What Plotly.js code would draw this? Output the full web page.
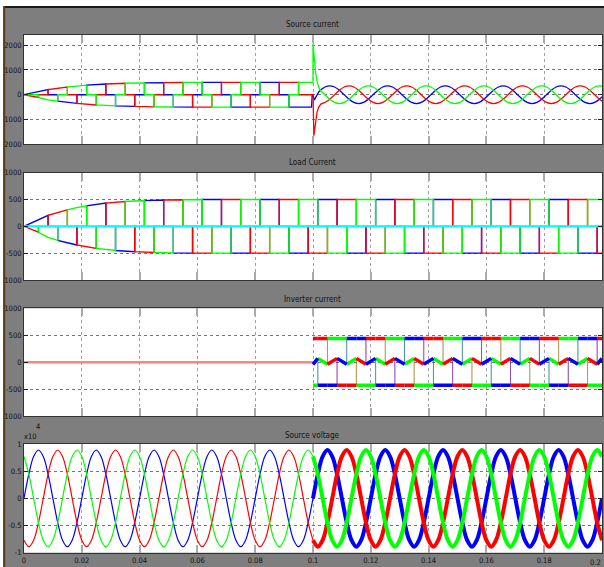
<!DOCTYPE html>
<html>
<head>
<meta charset="utf-8">
<script src="https://cdn.plot.ly/plotly-3.0.1.min.js"></script>
<style>
html,body{margin:0;padding:0;background:#7e7e7e;}
#chart{width:604px;height:567px;}
</style>
</head>
<body>
<div id="chart"></div>
<script>
// ---------------- DATA ----------------
// Commutation instants of the 6-pulse load current (s)
const timeEdges = [0, 0.00167, 0.005, 0.00833, 0.01167, 0.015, 0.01833, 0.02167, 0.025, 0.02833, 0.03167,
  0.035, 0.03833, 0.04167, 0.045, 0.04833, 0.05167, 0.055, 0.05833, 0.06167, 0.065,
  0.06833, 0.07167, 0.075, 0.07833, 0.08167, 0.085, 0.08833, 0.09167, 0.095, 0.09833,
  0.10167, 0.105, 0.10833, 0.11167, 0.115, 0.11833, 0.12167, 0.125, 0.12833, 0.13167,
  0.135, 0.13833, 0.14167, 0.145, 0.14833, 0.15167, 0.155, 0.15833, 0.16167, 0.165,
  0.16833, 0.17167, 0.175, 0.17833, 0.18167, 0.185, 0.18833, 0.19167, 0.195, 0.19833, 0.2];
// Load current magnitude at each instant (A)
const loadEnvelope = [0, 40, 110, 205, 262, 308, 348, 384, 412, 433, 450,
  463, 472, 480, 486, 490, 494, 497, 499, 500, 500,
  500, 500, 500, 500, 500, 500, 500, 500, 500, 500,
  500, 500, 500, 500, 500, 500, 500, 500, 500, 500,
  500, 500, 500, 500, 500, 500, 500, 500, 500, 500,
  500, 500, 500, 500, 500, 500, 500, 500, 500, 500, 500];
// Phase state per interval: + conducting positive, - negative, 0 idle
const loadStateBlue  = "+ ++0--0 ++0--0 ++0--0 ++0--0 ++0--0 ++0--0 ++0--0 ++0--0 ++0--0 ++0--0";
const loadStateRed   = "- -0++0- -0++0- -0++0- -0++0- -0++0- -0++0- -0++0- -0++0- -0++0- -0++0-";
const loadStateGreen = "0 0--0++ 0--0++ 0--0++ 0--0++ 0--0++ 0--0++ 0--0++ 0--0++ 0--0++ 0--0++";
const loadNeutralT = [0, 0.2];
const loadNeutral = [0, 0];

// Source current: transient at switch-on of the compensator (t = 0.1 s)
const srcTailBlueT  = [0.09833, 0.0995, 0.0997, 0.1, 0.1004, 0.1009, 0.1014, 0.102, 0.1027, 0.10413];
const srcTailBlue   = [-500, -500, -20, 0, -220, -120, 0, 110, 200, 312];
const srcTailRedT   = [0.09833, 0.1, 0.1003, 0.1008, 0.1014, 0.102, 0.1027, 0.10413];
const srcTailRed    = [0, 0, -1650, -1100, -700, -500, -380, -312];
const srcTailGreenT = [0.09833, 0.1, 0.1, 0.1004, 0.1009, 0.1014, 0.102, 0.1027, 0.10413];
const srcTailGreen  = [500, 500, 2050, 1500, 900, 550, 300, 150, 0];
// Source current after compensation (sinusoidal)
const srcSineT = [0.10413, 0.1058, 0.10747, 0.10913, 0.1108, 0.11247, 0.11413, 0.1158, 0.11747, 0.11913, 0.1208, 0.12247,
  0.12413, 0.1258, 0.12747, 0.12913, 0.1308, 0.13247, 0.13413, 0.1358, 0.13747, 0.13913, 0.1408, 0.14247,
  0.14413, 0.1458, 0.14747, 0.14913, 0.1508, 0.15247, 0.15413, 0.1558, 0.15747, 0.15913, 0.1608, 0.16247,
  0.16413, 0.1658, 0.16747, 0.16913, 0.1708, 0.17247, 0.17413, 0.1758, 0.17747, 0.17913, 0.1808, 0.18247,
  0.18413, 0.1858, 0.18747, 0.18913, 0.1908, 0.19247, 0.19413, 0.1958, 0.19747, 0.19913, 0.2008];
const srcSineBlue = [312, 360, 312, 180, 0, -180, -312, -360, -312, -180, 0, 180,
  312, 360, 312, 180, 0, -180, -312, -360, -312, -180, 0, 180,
  312, 360, 312, 180, 0, -180, -312, -360, -312, -180, 0, 180,
  312, 360, 312, 180, 0, -180, -312, -360, -312, -180, 0, 180,
  312, 360, 312, 180, 0, -180, -312, -360, -312, -180, 0];
const srcSineRed = [-312, -180, 0, 180, 312, 360, 312, 180, 0, -180, -312, -360,
  -312, -180, 0, 180, 312, 360, 312, 180, 0, -180, -312, -360,
  -312, -180, 0, 180, 312, 360, 312, 180, 0, -180, -312, -360,
  -312, -180, 0, 180, 312, 360, 312, 180, 0, -180, -312, -360,
  -312, -180, 0, 180, 312, 360, 312, 180, 0, -180, -312];
const srcSineGreen = [0, -180, -312, -360, -312, -180, 0, 180, 312, 360, 312, 180,
  0, -180, -312, -360, -312, -180, 0, 180, 312, 360, 312, 180,
  0, -180, -312, -360, -312, -180, 0, 180, 312, 360, 312, 180,
  0, -180, -312, -360, -312, -180, 0, 180, 312, 360, 312, 180,
  0, -180, -312, -360, -312, -180, 0, 180, 312, 360, 312];

// Inverter current
const invPreT = [0, 0.1];
const invPre = [0, 0];
const invEdges = [0.1, 0.10167, 0.105, 0.10833, 0.11167, 0.115, 0.11833, 0.12167, 0.125, 0.12833, 0.13167,
  0.135, 0.13833, 0.14167, 0.145, 0.14833, 0.15167, 0.155, 0.15833, 0.16167, 0.165,
  0.16833, 0.17167, 0.175, 0.17833, 0.18167, 0.185, 0.18833, 0.19167, 0.195, 0.19833, 0.2];
// T top band, B bottom band, U middle ramp up, D middle ramp down
const invStateBlue  = "U BBDTTU BBDTTU BBDTTU BBDTTU BBDTTU";
const invStateRed   = "T TUBBDT TUBBDT TUBBDT TUBBDT TUBBDT";
const invStateGreen = "B DTTUBB DTTUBB DTTUBB DTTUBB DTTUBB";
const invTop = [440, 440];
const invBottom = [-430, -430];
const invRampUp = [-40, 70];
const invRampDown = [70, -40];

// Source voltage (x 10^4 V)
const voltT = [0, 0.00167, 0.00333, 0.005, 0.00667, 0.00833, 0.01, 0.01167, 0.01333, 0.015, 0.01667, 0.01833,
  0.02, 0.02167, 0.02333, 0.025, 0.02667, 0.02833, 0.03, 0.03167, 0.03333, 0.035, 0.03667, 0.03833,
  0.04, 0.04167, 0.04333, 0.045, 0.04667, 0.04833, 0.05, 0.05167, 0.05333, 0.055, 0.05667, 0.05833,
  0.06, 0.06167, 0.06333, 0.065, 0.06667, 0.06833, 0.07, 0.07167, 0.07333, 0.075, 0.07667, 0.07833,
  0.08, 0.08167, 0.08333, 0.085, 0.08667, 0.08833, 0.09, 0.09167, 0.09333, 0.095, 0.09667, 0.09833,
  0.1, 0.10167, 0.10333, 0.105, 0.10667, 0.10833, 0.11, 0.11167, 0.11333, 0.115, 0.11667, 0.11833,
  0.12, 0.12167, 0.12333, 0.125, 0.12667, 0.12833, 0.13, 0.13167, 0.13333, 0.135, 0.13667, 0.13833,
  0.14, 0.14167, 0.14333, 0.145, 0.14667, 0.14833, 0.15, 0.15167, 0.15333, 0.155, 0.15667, 0.15833,
  0.16, 0.16167, 0.16333, 0.165, 0.16667, 0.16833, 0.17, 0.17167, 0.17333, 0.175, 0.17667, 0.17833,
  0.18, 0.18167, 0.18333, 0.185, 0.18667, 0.18833, 0.19, 0.19167, 0.19333, 0.195, 0.19667, 0.19833, 0.2];
const voltBlue = [0, 0.445, 0.77, 0.89, 0.77, 0.445, 0, -0.445, -0.77, -0.89, -0.77, -0.445,
  0, 0.445, 0.77, 0.89, 0.77, 0.445, 0, -0.445, -0.77, -0.89, -0.77, -0.445,
  0, 0.445, 0.77, 0.89, 0.77, 0.445, 0, -0.445, -0.77, -0.89, -0.77, -0.445,
  0, 0.445, 0.77, 0.89, 0.77, 0.445, 0, -0.445, -0.77, -0.89, -0.77, -0.445,
  0, 0.445, 0.77, 0.89, 0.77, 0.445, 0, -0.445, -0.77, -0.89, -0.77, -0.445,
  0, 0.445, 0.77, 0.89, 0.77, 0.445, 0, -0.445, -0.77, -0.89, -0.77, -0.445,
  0, 0.445, 0.77, 0.89, 0.77, 0.445, 0, -0.445, -0.77, -0.89, -0.77, -0.445,
  0, 0.445, 0.77, 0.89, 0.77, 0.445, 0, -0.445, -0.77, -0.89, -0.77, -0.445,
  0, 0.445, 0.77, 0.89, 0.77, 0.445, 0, -0.445, -0.77, -0.89, -0.77, -0.445,
  0, 0.445, 0.77, 0.89, 0.77, 0.445, 0, -0.445, -0.77, -0.89, -0.77, -0.445, 0];
const voltRed = [-0.77, -0.89, -0.77, -0.445, 0, 0.445, 0.77, 0.89, 0.77, 0.445, 0, -0.445,
  -0.77, -0.89, -0.77, -0.445, 0, 0.445, 0.77, 0.89, 0.77, 0.445, 0, -0.445,
  -0.77, -0.89, -0.77, -0.445, 0, 0.445, 0.77, 0.89, 0.77, 0.445, 0, -0.445,
  -0.77, -0.89, -0.77, -0.445, 0, 0.445, 0.77, 0.89, 0.77, 0.445, 0, -0.445,
  -0.77, -0.89, -0.77, -0.445, 0, 0.445, 0.77, 0.89, 0.77, 0.445, 0, -0.445,
  -0.77, -0.89, -0.77, -0.445, 0, 0.445, 0.77, 0.89, 0.77, 0.445, 0, -0.445,
  -0.77, -0.89, -0.77, -0.445, 0, 0.445, 0.77, 0.89, 0.77, 0.445, 0, -0.445,
  -0.77, -0.89, -0.77, -0.445, 0, 0.445, 0.77, 0.89, 0.77, 0.445, 0, -0.445,
  -0.77, -0.89, -0.77, -0.445, 0, 0.445, 0.77, 0.89, 0.77, 0.445, 0, -0.445,
  -0.77, -0.89, -0.77, -0.445, 0, 0.445, 0.77, 0.89, 0.77, 0.445, 0, -0.445, -0.77];
const voltGreen = [0.77, 0.445, 0, -0.445, -0.77, -0.89, -0.77, -0.445, 0, 0.445, 0.77, 0.89,
  0.77, 0.445, 0, -0.445, -0.77, -0.89, -0.77, -0.445, 0, 0.445, 0.77, 0.89,
  0.77, 0.445, 0, -0.445, -0.77, -0.89, -0.77, -0.445, 0, 0.445, 0.77, 0.89,
  0.77, 0.445, 0, -0.445, -0.77, -0.89, -0.77, -0.445, 0, 0.445, 0.77, 0.89,
  0.77, 0.445, 0, -0.445, -0.77, -0.89, -0.77, -0.445, 0, 0.445, 0.77, 0.89,
  0.77, 0.445, 0, -0.445, -0.77, -0.89, -0.77, -0.445, 0, 0.445, 0.77, 0.89,
  0.77, 0.445, 0, -0.445, -0.77, -0.89, -0.77, -0.445, 0, 0.445, 0.77, 0.89,
  0.77, 0.445, 0, -0.445, -0.77, -0.89, -0.77, -0.445, 0, 0.445, 0.77, 0.89,
  0.77, 0.445, 0, -0.445, -0.77, -0.89, -0.77, -0.445, 0, 0.445, 0.77, 0.89,
  0.77, 0.445, 0, -0.445, -0.77, -0.89, -0.77, -0.445, 0, 0.445, 0.77, 0.89, 0.77];

// Tick labels
const xTickVals = [0, 0.02, 0.04, 0.06, 0.08, 0.1, 0.12, 0.14, 0.16, 0.18];
const xTickText = ['0', '0.02', '0.04', '0.06', '0.08', '0.1', '0.12', '0.14', '0.16', '0.18'];
const xEndTickText = '0.2';
const y1TickVals = [-2000, -1000, 0, 1000, 2000];
const y1TickText = ['-2000', '-1000', '0', '1000', '2000'];
const y23TickVals = [-1000, -500, 0, 500, 1000];
const y23TickText = ['-1000', '-500', '0', '500', '1000'];
const y4TickVals = [-1, -0.5, 0, 0.5, 1];
const y4TickText = ['-1', '-0.5', '0', '0.5', '1'];
const panelTitles = ['Source current', 'Load Current', 'Inverter current', 'Source voltage'];

// ---------------- BUILD ----------------
const RED = '#ff0000', GREEN = '#00ff00', BLUE = '#0000ff';
const FONT = '"Liberation Sans Narrow", "DejaVu Sans Condensed", "Arial Narrow", "Liberation Sans", sans-serif';
const W = 604, H = 567;
const px = v => v / W, py = v => 1 - v / H;

function parseStates(s) { return s.replace(/\s+/g, '').split(''); }
function stepWave(stateStr, n) {
  const st = parseStates(stateStr), x = [], y = [];
  for (let i = 0; i < n; i++) {
    const k = st[i] === '+' ? 1 : (st[i] === '-' ? -1 : 0);
    x.push(timeEdges[i], timeEdges[i + 1]);
    y.push(k * loadEnvelope[i], k * loadEnvelope[i + 1]);
  }
  return {x, y};
}
const invMap = {T: invTop, B: invBottom, U: invRampUp, D: invRampDown};
function invWave(stateStr) {
  const st = parseStates(stateStr);
  const bx = [], by = [], lx = [], ly = [];
  for (let i = 0; i < st.length; i++) {
    const lv = invMap[st[i]];
    bx.push(invEdges[i], invEdges[i + 1], null); by.push(lv[0], lv[1], null);
    lx.push(invEdges[i], invEdges[i + 1]); ly.push(lv[0], lv[1]);
  }
  return {bx, by, lx, ly};
}

const traces = [];
function line(x, y, color, width, xa, ya, shape, opacity) {
  traces.push({type: 'scatter', mode: 'lines', x, y, xaxis: xa, yaxis: ya,
    line: {color, width, shape: shape || 'linear'}, opacity: opacity == null ? 1 : opacity,
    hoverinfo: 'skip', showlegend: false, connectgaps: false});
}

// Panel 1: source current
[[loadStateBlue, srcTailBlueT, srcTailBlue, srcSineBlue, BLUE],
 [loadStateRed, srcTailRedT, srcTailRed, srcSineRed, RED],
 [loadStateGreen, srcTailGreenT, srcTailGreen, srcSineGreen, GREEN]].forEach(([st, tt, tv, sv, c]) => {
  const w = stepWave(st, 30);
  line(w.x.concat(tt), w.y.concat(tv), c, 1.3, 'x', 'y');
  line(srcSineT, sv, c, 1.3, 'x', 'y', 'spline');
});

// Panel 2: load current
[[loadStateBlue, BLUE], [loadStateRed, RED], [loadStateGreen, GREEN]].forEach(([st, c]) => {
  const w = stepWave(st, 61);
  line(w.x, w.y, c, 1.4, 'x2', 'y2');
});
line(loadNeutralT, loadNeutral, '#00ffff', 2.2, 'x2', 'y2');

// Panel 3: inverter current
line(invPreT, invPre, GREEN, 2, 'x3', 'y3');
line(invPreT, invPre, '#ff8080', 2, 'x3', 'y3');
[[invStateGreen, GREEN], [invStateRed, RED], [invStateBlue, BLUE]].forEach(([st, c]) => {
  const w = invWave(st);
  line(w.lx, w.ly, c, 1, 'x3', 'y3', 'linear', 0.45);
});
[[invStateGreen, GREEN], [invStateRed, RED], [invStateBlue, BLUE]].forEach(([st, c]) => {
  const w = invWave(st);
  line(w.bx, w.by, c, 3.5, 'x3', 'y3');
});

// Panel 4: source voltage
[[voltBlue, BLUE], [voltRed, RED], [voltGreen, GREEN]].forEach(([v, c]) => {
  line(voltT.slice(0, 61), v.slice(0, 61), c, 1.2, 'x4', 'y4', 'spline');
});
[[voltBlue, BLUE], [voltRed, RED], [voltGreen, GREEN]].forEach(([v, c]) => {
  line(voltT.slice(60), v.slice(60), c, 4, 'x4', 'y4', 'spline');
});

// Axes
const xDomain = [px(24), px(602)];
const tickFont = {family: FONT, size: 7.5, color: '#111'};
function xax(anchor, labels) {
  return {domain: xDomain, range: [0, 0.2], anchor, tickvals: xTickVals.concat([0.2]), ticktext: xTickText.concat(['']),
    showticklabels: labels, tickfont: tickFont, showgrid: true, gridcolor: '#a0a0a0', griddash: 'dot',
    gridwidth: 1, zeroline: false, showline: true, linecolor: '#333', linewidth: 1, mirror: 'ticks',
    ticks: 'inside', ticklen: 8, tickwidth: 2, tickcolor: '#aaaaaa', fixedrange: true};
}
function yax(anchor, top, bottom, range, tv, tt) {
  return {domain: [py(bottom), py(top)], range, anchor, tickvals: tv, ticktext: tt, tickfont: tickFont,
    showgrid: true, gridcolor: '#555', griddash: 'dot', gridwidth: 0.8, zeroline: false,
    showline: true, linecolor: '#333', linewidth: 1, mirror: 'ticks', ticks: 'inside', ticklen: 4,
    tickwidth: 1, tickcolor: '#222', fixedrange: true};
}

const titleY = [25, 162, 299, 435];
const annotations = panelTitles.map((t, i) => ({text: t, xref: 'paper', yref: 'paper', x: px(312), y: py(titleY[i]),
  xanchor: 'center', yanchor: 'middle', showarrow: false, font: {family: FONT, size: 8, color: '#111'}}));
annotations.push({text: 'x10', xref: 'paper', yref: 'paper', x: px(22), y: py(436), xanchor: 'left', yanchor: 'middle',
  showarrow: false, font: {family: FONT, size: 7.5, color: '#111'}});
annotations.push({text: '4', xref: 'paper', yref: 'paper', x: px(34), y: py(426), xanchor: 'left', yanchor: 'middle',
  showarrow: false, font: {family: FONT, size: 7.5, color: '#111'}});
annotations.push({text: xEndTickText, xref: 'paper', yref: 'paper', x: px(603), y: py(562), xanchor: 'right', yanchor: 'middle',
  showarrow: false, font: tickFont});

const layout = {
  width: W, height: H, margin: {l: 0, r: 0, t: 0, b: 0, pad: 0},
  paper_bgcolor: '#7e7e7e', plot_bgcolor: '#ffffff', showlegend: false,
  xaxis: xax('y', false), xaxis2: xax('y2', false), xaxis3: xax('y3', false), xaxis4: xax('y4', true),
  yaxis: yax('x', 35, 144.3, [-2000, 2410], y1TickVals, y1TickText),
  yaxis2: yax('x2', 172.7, 280, [-1000, 1000], y23TickVals, y23TickText),
  yaxis3: yax('x3', 308.3, 416, [-1000, 1000], y23TickVals, y23TickText),
  yaxis4: yax('x4', 444, 552.7, [-1, 1], y4TickVals, y4TickText),
  annotations,
  shapes: [
    {type: 'rect', xref: 'paper', yref: 'paper', x0: 0, x1: 1, y0: py(6), y1: 1, fillcolor: '#ffffff', line: {width: 0}, layer: 'above'},
    {type: 'rect', xref: 'paper', yref: 'paper', x0: 0, x1: px(3), y0: 0, y1: 1, fillcolor: '#ffffff', line: {width: 0}, layer: 'above'},
    {type: 'line', xref: 'paper', yref: 'paper', x0: px(4), x1: 1, y0: py(7), y1: py(7), line: {color: '#1a1a1a', width: 2}, layer: 'above'},
    {type: 'line', xref: 'paper', yref: 'paper', x0: px(4.2), x1: px(4.2), y0: 0, y1: py(6), line: {color: '#5b3c1c', width: 2}, layer: 'above'}
  ]
};

Plotly.newPlot('chart', traces, layout, {staticPlot: true, displayModeBar: false});
</script>
</body>
</html>
